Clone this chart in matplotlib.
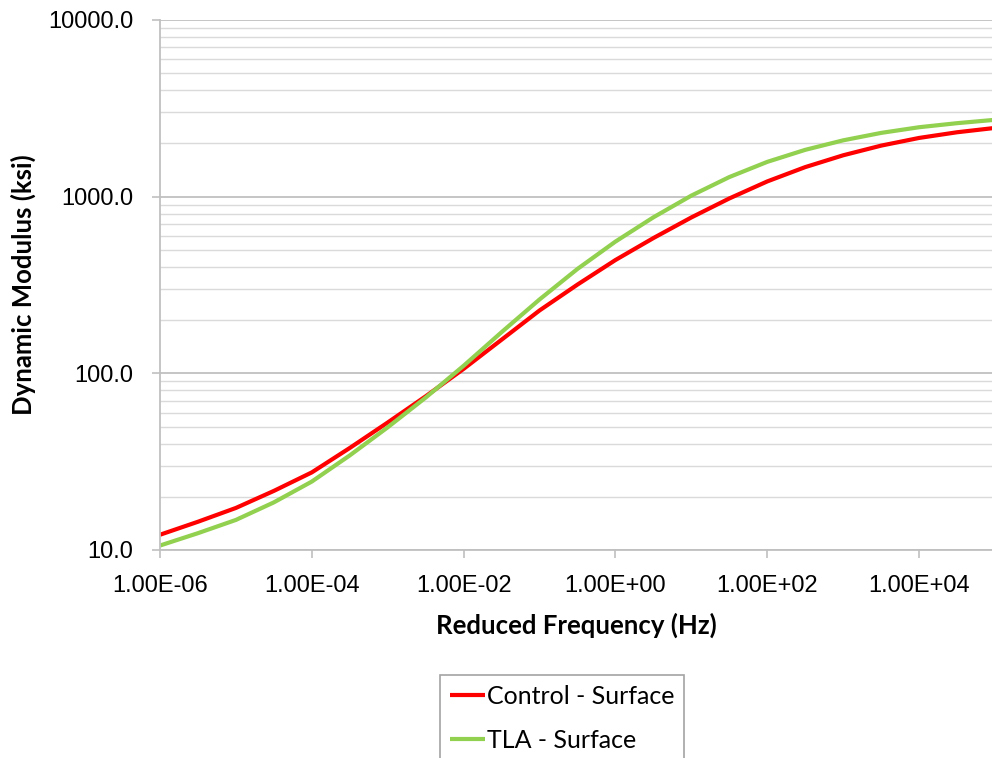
import matplotlib
matplotlib.use("Agg")
import matplotlib.pyplot as plt
from matplotlib.ticker import FixedLocator, FuncFormatter, LogLocator, NullLocator

# reduced frequency (Hz), half-decade steps
freq = [1.00E-06, 3.16E-06, 1.00E-05, 3.16E-05, 1.00E-04, 3.16E-04, 1.00E-03, 3.16E-03,
        1.00E-02, 3.16E-02, 1.00E-01, 3.16E-01, 1.00E+00, 3.16E+00, 1.00E+01, 3.16E+01,
        1.00E+02, 3.16E+02, 1.00E+03, 3.16E+03, 1.00E+04, 3.16E+04, 1.00E+05]

# dynamic modulus (ksi)
control_surface = [12.2, 14.45, 17.3, 21.6, 27.5, 37.8, 52.7, 74.1, 106.0, 155.0, 227.0, 318.0,
                   438.0, 583.0, 763.0, 977.0, 1220.0, 1470.0, 1715.0, 1945.0, 2150.0, 2315.0, 2450.0]
tla_surface = [10.6, 12.45, 14.8, 18.6, 24.4, 34.3, 49.5, 72.9, 110.4, 171.0, 262.0, 390.0,
               557.0, 764.0, 1014.0, 1291.0, 1574.0, 1841.0, 2084.0, 2296.0, 2472.0, 2606.0, 2723.0]

series_labels = ["Control - Surface", "TLA - Surface"]
series_colors = ["#FF0000", "#92D050"]

x_ticks = [1e-6, 1e-4, 1e-2, 1e0, 1e2, 1e4]
y_ticks = [10, 100, 1000, 10000]

fig = plt.figure(figsize=(9.92, 7.58), dpi=100)
ax = fig.add_axes([160 / 992, 208 / 758, 1 - 160 / 992, 530 / 758])

for ys, lab, col in zip([control_surface, tla_surface], series_labels, series_colors):
    ax.plot(freq, ys, color=col, lw=3.0, label=lab,
            solid_capstyle="butt", solid_joinstyle="round")

ax.set_xscale("log")
ax.set_yscale("log")
ax.set_xlim(1e-6, 10 ** 4.96)
ax.set_ylim(10, 10000)

ax.xaxis.set_major_locator(FixedLocator(x_ticks))
ax.xaxis.set_minor_locator(NullLocator())
ax.xaxis.set_major_formatter(FuncFormatter(lambda v, p: f"{v:.2E}"))
ax.yaxis.set_major_locator(FixedLocator(y_ticks))
ax.yaxis.set_minor_locator(LogLocator(base=10, subs=range(2, 10)))
ax.yaxis.set_major_formatter(FuncFormatter(lambda v, p: f"{v:.1f}"))

ax.grid(True, which="major", axis="y", color="#C0C0C0", lw=1.3)
ax.grid(True, which="minor", axis="y", color="#DADADA", lw=1.0)
ax.set_axisbelow(True)

for s in ["top", "right"]:
    ax.spines[s].set_visible(False)
for s in ["left", "bottom"]:
    ax.spines[s].set_color("#C0C0C0")
    ax.spines[s].set_linewidth(1.3)

ax.tick_params(axis="both", which="major", length=6, width=1.2, color="#C0C0C0",
               labelsize=17, labelcolor="#000000")
ax.tick_params(axis="x", which="major", pad=12)
ax.tick_params(axis="y", which="major", pad=13)
ax.tick_params(axis="y", which="minor", length=0)
for t in ax.get_xticklabels() + ax.get_yticklabels():
    t.set_fontfamily("Liberation Sans")

ax.set_xlabel("Reduced Frequency (Hz)", fontsize=18.5, fontweight="bold", family="Lato", labelpad=11)
ax.set_ylabel("Dynamic Modulus (ksi)", fontsize=18.5, fontweight="bold", family="Lato", labelpad=9)

leg = ax.legend(loc="upper left", bbox_to_anchor=(440 / 992, 1 - 675 / 758),
                bbox_transform=fig.transFigure, frameon=True, fancybox=False,
                prop={"family": "Lato", "size": 18}, handlelength=1.4,
                handletextpad=0.1, borderpad=0.38, labelspacing=0.85, borderaxespad=0)
leg.get_frame().set_edgecolor("#8C8C8C")
leg.get_frame().set_linewidth(1.2)

fig.savefig("out.png", dpi=100)
